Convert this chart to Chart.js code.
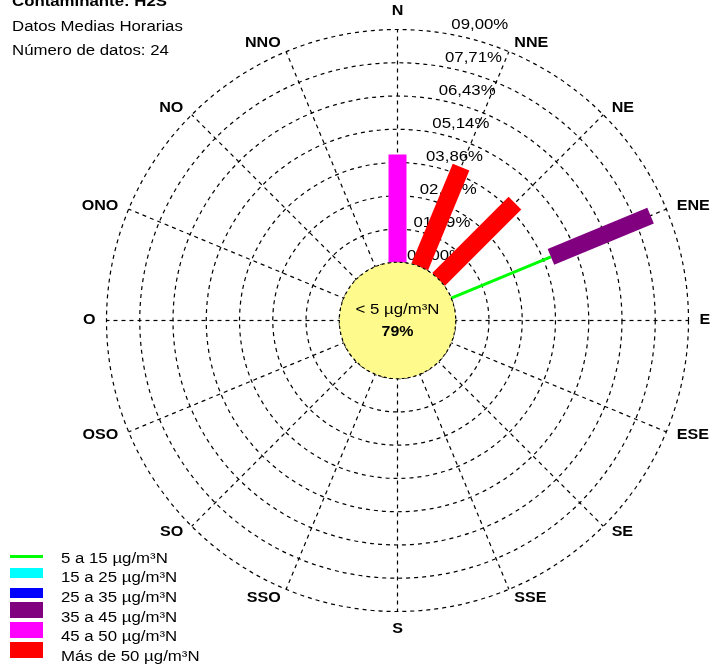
<!DOCTYPE html>
<html>
<head>
<meta charset="utf-8">
<title>Rosa de contaminación H2S</title>
<script src="https://cdn.jsdelivr.net/npm/chart.js@4/dist/chart.umd.min.js"></script>
<style>
  html, body { margin: 0; padding: 0; background: #fff; }
  #wrap { position: relative; width: 710px; height: 669px; }
</style>
</head>
<body>
<div id="wrap"><canvas id="rosa"></canvas></div>
<script>
// Direcciones del viento (sentido horario desde el Norte)
const direcciones = ['N', 'NNE', 'NE', 'ENE', 'E', 'ESE', 'SE', 'SSE', 'S', 'SSO', 'SO', 'OSO', 'O', 'ONO', 'NO', 'NNO'];

// Porcentaje de datos por dirección y clase de concentración
const clase5a15   = [0, 0, 0, 4.17, 0, 0, 0, 0, 0, 0, 0, 0, 0, 0, 0, 0];
const clase15a25  = [0, 0, 0, 0, 0, 0, 0, 0, 0, 0, 0, 0, 0, 0, 0, 0];
const clase25a35  = [0, 0, 0, 0, 0, 0, 0, 0, 0, 0, 0, 0, 0, 0, 0, 0];
const clase35a45  = [0, 0, 0, 4.17, 0, 0, 0, 0, 0, 0, 0, 0, 0, 0, 0, 0];
const clase45a50  = [4.17, 0, 0, 0, 0, 0, 0, 0, 0, 0, 0, 0, 0, 0, 0, 0];
const claseMas50  = [0, 4.17, 4.17, 0, 0, 0, 0, 0, 0, 0, 0, 0, 0, 0, 0, 0];

// Calmas / concentraciones bajas (círculo central)
const calmaEtiqueta = '< 5 µg/m³N';
const calmaPorcentaje = 79;

// Anillos del eje radial
const anillosValores = [0, 1.2857, 2.5714, 3.8571, 5.1429, 6.4286, 7.7143, 9.0];
const anillosEtiquetas = ['00,00%', '01,29%', '02,57%', '03,86%', '05,14%', '06,43%', '07,71%', '09,00%'];

const clasesEtiquetas = ['5 a 15 µg/m³N', '15 a 25 µg/m³N', '25 a 35 µg/m³N', '35 a 45 µg/m³N', '45 a 50 µg/m³N', 'Más de 50 µg/m³N'];
const clasesColores = ['#00ff00', '#00ffff', '#0000ff', '#800080', '#ff00ff', '#ff0000'];
const clasesGrosor = [3, 10, 10, 17, 18, 18];
const clasesDatos = [clase5a15, clase15a25, clase25a35, clase35a45, clase45a50, claseMas50];

const cabecera = ['Contaminante: H2S', 'Datos Medias Horarias', 'Número de datos: 24'];

const FUENTE = '"Liberation Sans", Arial, Helvetica, sans-serif';

function texto(ctx, s, x, y, peso, tam, align, base, sx) {
  ctx.save();
  ctx.font = peso + ' ' + tam + 'px ' + FUENTE;
  ctx.textAlign = align;
  ctx.textBaseline = base;
  ctx.fillStyle = '#000';
  ctx.translate(x, y);
  ctx.scale(sx, 1);
  ctx.fillText(s, 0, 0);
  ctx.restore();
}

// Barras apiladas, anillos rotulados y círculo de calmas
const rosaPlugin = {
  id: 'rosaPlugin',
  afterDatasetsDraw(chart) {
    const ctx = chart.ctx;
    const sc = chart.scales.r;
    const xc = sc.xCenter, yc = sc.yCenter;

    // rótulos de los anillos
    anillosValores.forEach((v, k) => {
      const r = sc.getDistanceFromCenterForValue(v);
      texto(ctx, anillosEtiquetas[k], xc + 27 + 0.19 * r, yc - 0.99 * r - 7, 'normal', 14, 'center', 'middle', 1.2);
    });

    // barras por dirección, apiladas por clase
    ctx.save();
    ctx.lineCap = 'butt';
    direcciones.forEach((d, i) => {
      let acum = 0;
      clasesDatos.forEach((serie, c) => {
        const v = serie[i];
        if (!v) return;
        const p0 = sc.getPointPositionForValue(i, acum);
        const p1 = sc.getPointPositionForValue(i, acum + v);
        ctx.beginPath();
        ctx.strokeStyle = clasesColores[c];
        ctx.lineWidth = clasesGrosor[c];
        ctx.moveTo(p0.x, p0.y);
        ctx.lineTo(p1.x, p1.y);
        ctx.stroke();
        acum += v;
      });
    });
    ctx.restore();

    // círculo central
    const rc = sc.getDistanceFromCenterForValue(0);
    ctx.save();
    ctx.beginPath();
    ctx.arc(xc, yc, rc, 0, Math.PI * 2);
    ctx.fillStyle = '#fffa8c';
    ctx.fill();
    ctx.setLineDash([3, 3]);
    ctx.strokeStyle = '#000';
    ctx.lineWidth = 1.1;
    ctx.stroke();
    ctx.restore();
    texto(ctx, calmaEtiqueta, xc, yc - 10, 'normal', 14, 'center', 'middle', 1.2);
    texto(ctx, calmaPorcentaje + '%', xc, yc + 12, 'bold', 14, 'center', 'middle', 1.14);
  },
  afterDraw(chart) {
    const ctx = chart.ctx;
    const sc = chart.scales.r;

    // rótulos de dirección
    const rl = sc.drawingArea + 9;
    direcciones.forEach((d, i) => {
      const p = sc.getPointPosition(i, rl);
      let align = 'center', base = 'middle', x = p.x, y = p.y;
      if (i === 0) { base = 'bottom'; y -= 2; }
      else if (i === 8) { base = 'top'; y += 2; }
      else if (i < 8) { align = 'left'; x += 2; }
      else { align = 'right'; x -= 2; }
      texto(ctx, d, x, y, 'bold', 14, align, base, 1.15);
    });

    // cabecera
    texto(ctx, cabecera[0], 12, 6, 'bold', 14, 'left', 'alphabetic', 1.2);
    texto(ctx, cabecera[1], 12, 30.5, 'normal', 14, 'left', 'alphabetic', 1.2);
    texto(ctx, cabecera[2], 12, 54.5, 'normal', 14, 'left', 'alphabetic', 1.2);

    // leyenda
    const muestras = [[555, 558], [568, 578], [588, 598], [602, 618], [622, 638], [642, 658]];
    clasesEtiquetas.forEach((et, c) => {
      ctx.fillStyle = clasesColores[c];
      ctx.fillRect(10, muestras[c][0], 33, muestras[c][1] - muestras[c][0]);
      texto(ctx, et, 61, 562.5 + 19.7 * c, 'normal', 14, 'left', 'alphabetic', 1.2);
    });
  }
};

const conjuntos = clasesDatos.map((serie, c) => ({
  label: clasesEtiquetas[c],
  data: serie,
  borderColor: 'rgba(0,0,0,0)',
  backgroundColor: 'rgba(0,0,0,0)',
  fill: false,
  showLine: false,
  pointRadius: 0,
  pointHoverRadius: 0,
  borderWidth: 0
}));

new Chart(document.getElementById('rosa'), {
  type: 'radar',
  data: { labels: direcciones, datasets: conjuntos },
  options: {
    responsive: true,
    maintainAspectRatio: false,
    animation: false,
    events: [],
    layout: { padding: 0 },
    plugins: { legend: { display: false }, tooltip: { enabled: false }, title: { display: false } },
    scales: {
      r: {
        min: -2.25,
        max: 9,
        afterBuildTicks(scale) {
          scale.ticks = anillosValores.map(v => ({ value: v }));
        },
        afterFit(scale) {
          scale.xCenter = 397.5;
          scale.yCenter = 320.5;
          scale.drawingArea = 291;
        },
        ticks: { display: false },
        pointLabels: { display: false },
        grid: { circular: true, color: '#000', lineWidth: 1.2, borderDash: [4, 4] },
        border: { dash: [4, 4] },
        angleLines: { display: true, color: '#000', lineWidth: 1.2, borderDash: [4, 4] }
      }
    }
  },
  plugins: [rosaPlugin]
});
</script>
</body>
</html>
